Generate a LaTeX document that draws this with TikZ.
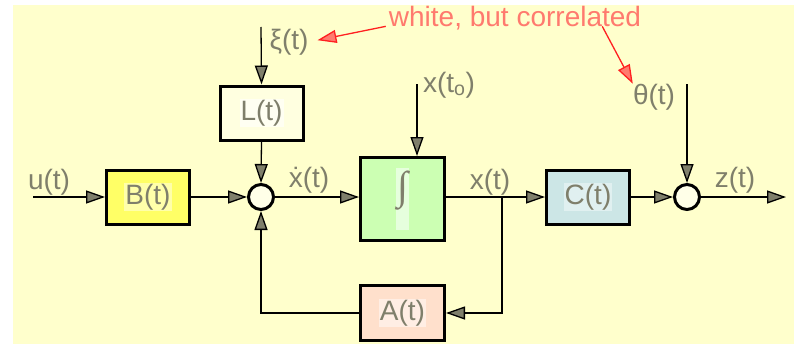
\documentclass[tikz,border=0pt]{standalone}
\usepackage{fontspec}
\setmainfont{Liberation Sans}
\newfontfamily\intfont{Liberation Serif}
\usetikzlibrary{arrows.meta,positioning}

\definecolor{bgyellow}{HTML}{FFFFCC}
\definecolor{sigtext}{HTML}{7F7F6B}
\definecolor{arrowgray}{HTML}{7F7F6B}
\definecolor{Bfill}{HTML}{FFFF66}
\definecolor{Bhi}{HTML}{FFFFAA}
\definecolor{Lfill}{HTML}{FFFFE0}
\definecolor{Lhi}{HTML}{FFFFF2}
\definecolor{intfill}{HTML}{CCFFB3}
\definecolor{inthi}{HTML}{E6FFDD}
\definecolor{Cfill}{HTML}{CCE6E6}
\definecolor{Chi}{HTML}{E0F0F0}
\definecolor{Afill}{HTML}{FFE0CC}
\definecolor{Ahi}{HTML}{FFEEE4}
\definecolor{sumfill}{HTML}{FFFFE8}
\definecolor{notetext}{HTML}{FF7A6E}
\definecolor{notered}{HTML}{FF2020}

\newcommand{\hl}[2]{{\setlength{\fboxsep}{1pt}\colorbox{#1}{#2}}}

\begin{document}
\begin{tikzpicture}[x=1pt, y=-1pt, font=\fontsize{28}{30}\selectfont,
  >={Triangle[length=19pt, width=13pt, fill=arrowgray]},
  block/.style={draw=black, line width=3pt, text=sigtext,
    minimum width=83pt, minimum height=54pt, inner sep=0pt},
  sumpt/.style={circle, draw=black, line width=3pt, fill=sumfill,
    minimum size=25pt, inner sep=0pt},
  sig/.style={text=sigtext, inner sep=0pt},
  wire/.style={line width=1.3pt, draw=black},
  notearrow/.style={line width=1.3pt, draw=notered,
    -{Triangle[length=19pt, width=13pt, fill=notetext]}}]

  % ── Background ────────────────────────────────────────────────────────
  \useasboundingbox (0,0) rectangle (794,345);
  \fill[bgyellow] (13,5) rectangle (794,344);

  % ── Blocks ────────────────────────────────────────────────────────────
  \node[block, fill=Bfill] (B) at (148,197) {\hl{Bhi}{B(t)}};
  \node[block, fill=Lfill] (L) at (261.5,113) {\hl{Lhi}{L(t)}};
  \node[block, fill=intfill, minimum width=84pt, minimum height=83pt]
    (int) at (402.5,199)
    {\hl{inthi}{\rule[-30pt]{0pt}{60pt}\intfont\fontsize{40}{40}\selectfont ∫}};
  \node[block, fill=Cfill] (C) at (588,197) {\hl{Chi}{C(t)}};
  \node[block, fill=Afill, minimum width=84pt, minimum height=55pt]
    (A) at (402.5,313) {\hl{Ahi}{A(t)}};

  % summing points
  \node[sumpt] (sum1) at (261,197) {};
  \node[sumpt] (sum2) at (687,197) {};

  % ── Signal labels ─────────────────────────────────────────────────────
  \node[sig] (u) at (49,182) {u(t)};
  \node[sig] (xi) at (289,42) {ξ(t)};
  \node[sig] (xdot) at (309,180) {\.x(t)};
  \node[sig] (x0) at (449,85) {x(t\textsubscript{o})};
  \node[sig] (x) at (490,182) {x(t)};
  \node[sig] (theta) at (654,97) {θ(t)};
  \node[sig] (z) at (735,180) {z(t)};

  % free ends
  \coordinate (uin) at (33,197);
  \coordinate (xiin) at (261,27);
  \coordinate (x0in) at (417,84);
  \coordinate (thin) at (687,84);
  \coordinate (zout) at (786,197);
  \coordinate (br) at (502,197);

  % ── Connectors ────────────────────────────────────────────────────────
  \draw[wire, ->] (uin) -- (B.west);
  \draw[wire, ->] (B.east) -- (sum1.west);
  \draw[wire, ->] (xiin) -- (L.north);
  \draw[wire, ->] (L.south) -- (sum1.north);
  \draw[wire, ->] (sum1.east) -- (sum1.east -| int.west);
  \draw[wire, ->] (x0in) -- (x0in |- int.north);
  \draw[wire, ->] (br -| int.east) -- (C.west);
  \draw[wire, ->] (br) |- (A.east);
  \draw[wire, ->] (A.west) -| (sum1.south);
  \draw[wire, ->] (C.east) -- (sum2.west);
  \draw[wire, ->] (thin) -- (sum2.north);
  \draw[wire, ->] (sum2.east) -- (zout);

  % ── Annotation ────────────────────────────────────────────────────────
  \node[text=notetext, inner sep=0pt] (note) at (515,18) {white, but correlated};
  \draw[notearrow, shorten >=9pt] ([xshift=-3pt]note.base west) -- (xi.east);
  \draw[notearrow] ([xshift=-39pt]note.base east) -- (theta.north west);

\end{tikzpicture}
\end{document}
